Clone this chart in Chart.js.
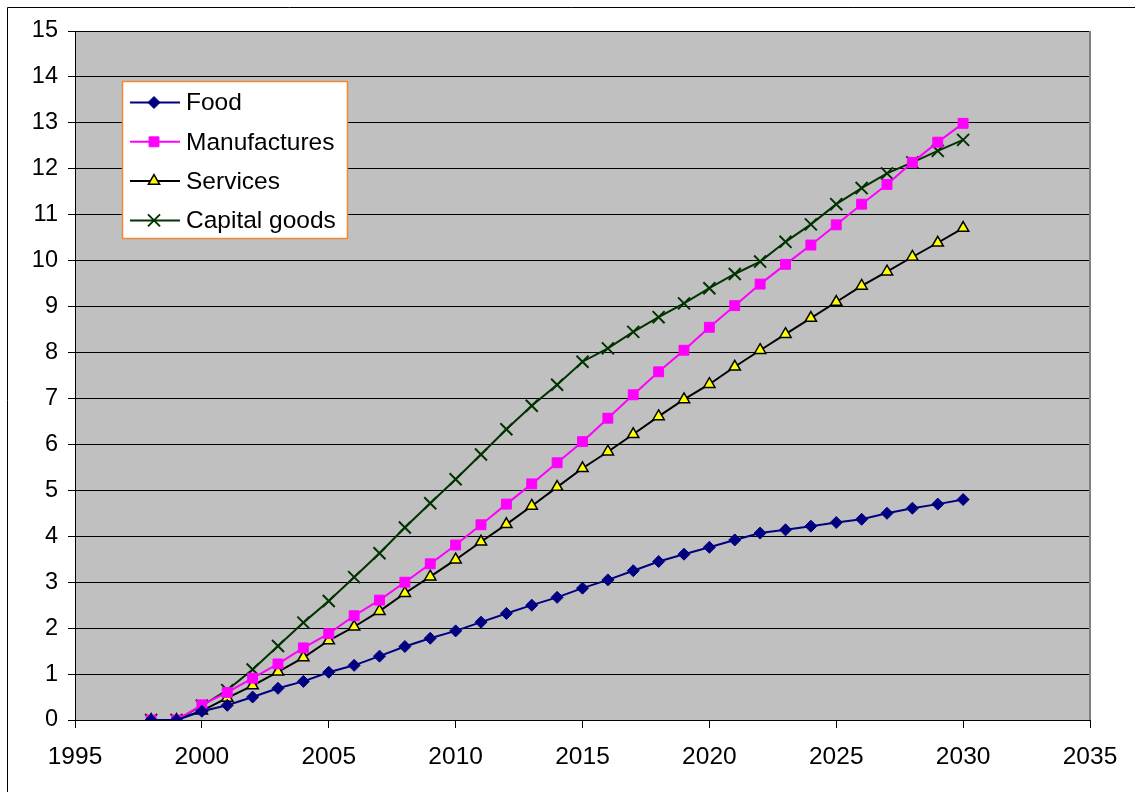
<!DOCTYPE html>
<html>
<head>
<meta charset="utf-8">
<script src="https://cdn.jsdelivr.net/npm/chart.js@4/dist/chart.umd.min.js"></script>
<style>
  html, body { margin: 0; padding: 0; background: #ffffff; }
  canvas { display: block; }
</style>
</head>
<body>
<canvas id="chart" width="1135" height="792"></canvas>
<script>
// Projected cumulative growth by sector, 1998-2030
const years = [1998, 1999, 2000, 2001, 2002, 2003, 2004, 2005, 2006, 2007, 2008,
  2009, 2010, 2011, 2012, 2013, 2014, 2015, 2016, 2017, 2018, 2019, 2020,
  2021, 2022, 2023, 2024, 2025, 2026, 2027, 2028, 2029, 2030];

const food = [0, 0, 0.19, 0.32, 0.50, 0.69, 0.84, 1.04, 1.19, 1.39, 1.60,
  1.78, 1.94, 2.13, 2.32, 2.50, 2.67, 2.87, 3.05, 3.25, 3.45, 3.61, 3.76,
  3.92, 4.07, 4.14, 4.22, 4.30, 4.37, 4.50, 4.61, 4.70, 4.80];

const manufactures = [0, 0, 0.33, 0.60, 0.91, 1.22, 1.57, 1.88, 2.27, 2.61, 3.00,
  3.40, 3.81, 4.25, 4.70, 5.14, 5.60, 6.06, 6.57, 7.08, 7.58, 8.05, 8.55,
  9.02, 9.49, 9.92, 10.34, 10.78, 11.23, 11.66, 12.14, 12.58, 12.99];

const services = [0, 0, 0.20, 0.48, 0.75, 1.05, 1.36, 1.73, 2.03, 2.37, 2.76,
  3.12, 3.49, 3.88, 4.26, 4.66, 5.07, 5.48, 5.84, 6.22, 6.61, 6.98, 7.31,
  7.69, 8.05, 8.40, 8.75, 9.10, 9.45, 9.76, 10.08, 10.39, 10.71];

const capitalGoods = [0, 0, 0.31, 0.65, 1.10, 1.61, 2.12, 2.59, 3.11, 3.63, 4.19,
  4.72, 5.24, 5.78, 6.33, 6.84, 7.30, 7.80, 8.09, 8.45, 8.77, 9.07, 9.40,
  9.71, 9.98, 10.41, 10.79, 11.23, 11.58, 11.90, 12.14, 12.39, 12.63];

const seriesNames = ['Food', 'Manufactures', 'Services', 'Capital goods'];

// Axis ranges and tick spacing
const xRange = [1995, 2035];
const xStep = 5;
const yRange = [0, 15];
const yStep = 1;

const FONT = '"Liberation Sans", Arial, Helvetica, sans-serif';

function points(values) {
  return years.map((yr, i) => ({ x: yr, y: values[i] }));
}

// Grey plot background plus the page frame
const plotBackground = {
  id: 'plotBackground',
  beforeDraw(chart) {
    const { ctx, chartArea: a } = chart;
    ctx.save();
    ctx.fillStyle = '#ffffff';
    ctx.fillRect(0, 0, chart.width, chart.height);
    ctx.fillStyle = '#c0c0c0';
    ctx.fillRect(a.left, a.top, a.right - a.left, a.bottom - a.top);
    // outer frame
    ctx.strokeStyle = '#000000';
    ctx.lineWidth = 1;
    ctx.beginPath();
    ctx.moveTo(7.5, chart.height + 2);
    ctx.lineTo(7.5, 7.5);
    ctx.lineTo(chart.width + 2, 7.5);
    ctx.stroke();
    ctx.restore();
  },
  beforeDatasetsDraw(chart) {
    const { ctx, chartArea: a } = chart;
    ctx.save();
    ctx.strokeStyle = '#808080';
    ctx.lineWidth = 2;
    ctx.beginPath();
    ctx.moveTo(a.right, a.top);
    ctx.lineTo(a.right, a.bottom);
    ctx.stroke();
    ctx.restore();
  }
};

// Boxed legend inside the plot area
const innerLegend = {
  id: 'innerLegend',
  afterDraw(chart) {
    const { ctx } = chart;
    const box = { x: 122.5, y: 81.5, w: 225, h: 157 };
    ctx.save();
    ctx.fillStyle = '#ffffff';
    ctx.fillRect(box.x, box.y, box.w, box.h);
    ctx.strokeStyle = '#f58733';
    ctx.lineWidth = 1.5;
    ctx.strokeRect(box.x, box.y, box.w, box.h);

    const rowY0 = 102.5;
    const rowGap = 39.3;
    chart.data.datasets.forEach((ds, i) => {
      const y = rowY0 + i * rowGap;
      ctx.strokeStyle = ds.borderColor;
      ctx.lineWidth = ds.borderWidth;
      ctx.beginPath();
      ctx.moveTo(130, y);
      ctx.lineTo(180, y);
      ctx.stroke();

      ctx.fillStyle = ds.pointBackgroundColor;
      ctx.strokeStyle = ds.pointBorderColor;
      ctx.lineWidth = ds.pointBorderWidth;
      Chart.helpers.drawPoint(ctx, {
        pointStyle: ds.pointStyle,
        radius: ds.pointRadius,
        borderWidth: ds.pointBorderWidth,
        rotation: 0
      }, 154, y);

      ctx.fillStyle = '#000000';
      ctx.font = '24.5px ' + FONT;
      ctx.textBaseline = 'middle';
      ctx.textAlign = 'left';
      ctx.fillText(ds.label, 186, y + 1);
    });
    ctx.restore();
  }
};

const datasets = [
  {
    label: seriesNames[0],
    data: points(food),
    borderColor: '#000080',
    borderWidth: 2,
    pointStyle: 'rectRot',
    pointRadius: 6,
    pointBackgroundColor: '#000080',
    pointBorderColor: '#000080',
    pointBorderWidth: 1
  },
  {
    label: seriesNames[1],
    data: points(manufactures),
    borderColor: '#ff00ff',
    borderWidth: 2,
    pointStyle: 'rect',
    pointRadius: 7,
    pointBackgroundColor: '#ff00ff',
    pointBorderColor: '#ff00ff',
    pointBorderWidth: 1
  },
  {
    label: seriesNames[2],
    data: points(services),
    borderColor: '#000000',
    borderWidth: 2,
    pointStyle: 'triangle',
    pointRadius: 6.5,
    pointBackgroundColor: '#ffff00',
    pointBorderColor: '#000000',
    pointBorderWidth: 1.5
  },
  {
    label: seriesNames[3],
    data: points(capitalGoods),
    borderColor: '#003300',
    borderWidth: 2,
    pointStyle: 'crossRot',
    pointRadius: 8.5,
    pointBackgroundColor: '#003300',
    pointBorderColor: '#003300',
    pointBorderWidth: 2
  }
];

new Chart(document.getElementById('chart'), {
  type: 'line',
  data: { datasets },
  plugins: [plotBackground, innerLegend],
  options: {
    responsive: false,
    animation: false,
    devicePixelRatio: 1,
    layout: { padding: { left: 0, top: 31, right: 45, bottom: 0 } },
    elements: { line: { tension: 0 } },
    plugins: {
      legend: { display: false },
      tooltip: { enabled: false }
    },
    scales: {
      x: {
        type: 'linear',
        min: xRange[0],
        max: xRange[1],
        afterFit(scale) { scale.height = 72; },
        afterBuildTicks(scale) {
          const t = [];
          for (let v = xRange[0]; v <= xRange[1]; v += xStep) t.push({ value: v });
          scale.ticks = t;
        },
        ticks: {
          autoSkip: false,
          maxRotation: 0,
          padding: 15,
          color: '#000000',
          font: { family: FONT, size: 24.5 },
          callback: (v) => String(v)
        },
        grid: {
          drawOnChartArea: false,
          drawTicks: true,
          tickLength: 8,
          color: '#000000',
          lineWidth: 1
        },
        border: { display: true, color: '#000000', width: 1 }
      },
      y: {
        type: 'linear',
        min: yRange[0],
        max: yRange[1],
        afterFit(scale) { scale.width = 75; },
        ticks: {
          stepSize: yStep,
          padding: 10,
          color: '#000000',
          font: { family: FONT, size: 23.5 },
          callback: (v) => String(v)
        },
        grid: {
          drawOnChartArea: true,
          drawTicks: true,
          tickLength: 7,
          color: '#000000',
          lineWidth: 1
        },
        border: { display: true, color: '#000000', width: 1 }
      }
    }
  }
});
</script>
</body>
</html>
